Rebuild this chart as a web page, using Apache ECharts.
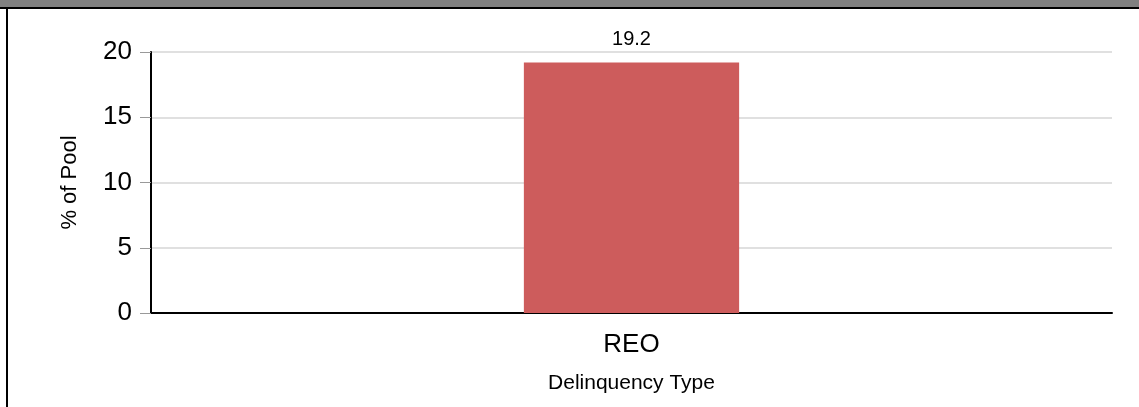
<!DOCTYPE html>
<html>
<head>
<meta charset="utf-8">
<script src="https://cdn.jsdelivr.net/npm/echarts@6/dist/echarts.min.js"></script>
<style>
  html, body { margin: 0; padding: 0; background: #fff; }
  #wrap { position: relative; width: 1139px; height: 407px; overflow: hidden; }
  #header { position: absolute; left: 0; top: 0; width: 1139px; height: 7px; background: #808080; border-bottom: 2px solid #000; }
  #lborder { position: absolute; left: 6px; top: 9px; width: 2px; height: 398px; background: #000; }
  #chart { position: absolute; left: 0; top: 0; width: 1139px; height: 407px; }
</style>
</head>
<body>
<div id="wrap">
  <div id="chart"></div>
  <div id="header"></div>
  <div id="lborder"></div>
</div>
<script>
const categories = ["REO"];
const pctOfPool = [19.2];
const yTicks = [0, 5, 10, 15, 20];

const chart = echarts.init(document.getElementById("chart"));
chart.setOption({
  animation: false,
  textStyle: { fontFamily: "Liberation Sans, Arial, sans-serif" },
  grid: { left: 151, right: 27, top: 52, bottom: 94 },
  xAxis: {
    type: "category",
    data: categories,
    name: "Delinquency Type",
    nameLocation: "middle",
    nameGap: 60,
    nameTextStyle: { color: "#000", fontSize: 21 },
    axisLine: { lineStyle: { color: "#000", width: 2 } },
    axisTick: { alignWithLabel: true, length: 6, lineStyle: { color: "#777" } },
    axisLabel: { color: "#000", fontSize: 26, margin: 19 },
  },
  yAxis: {
    type: "value",
    min: yTicks[0],
    max: yTicks[yTicks.length - 1],
    interval: 5,
    name: "% of Pool",
    nameLocation: "middle",
    nameGap: 70,
    nameRotate: 90,
    nameTextStyle: { color: "#000", fontSize: 22 },
    axisLine: { show: true, lineStyle: { color: "#000", width: 2 } },
    axisTick: { show: true, length: 11, lineStyle: { color: "#999" } },
    axisLabel: { color: "#000", fontSize: 26, margin: 19 },
    splitLine: { lineStyle: { color: "#e0e0e0", width: 2 } },
  },
  series: [{
    type: "bar",
    data: pctOfPool,
    barWidth: "22.4%",
    itemStyle: { color: "#CD5C5C" },
    label: { show: true, position: "top", distance: 13, color: "#000", fontSize: 20, formatter: (p) => p.value.toFixed(1) },
  }],
});
</script>
</body>
</html>
